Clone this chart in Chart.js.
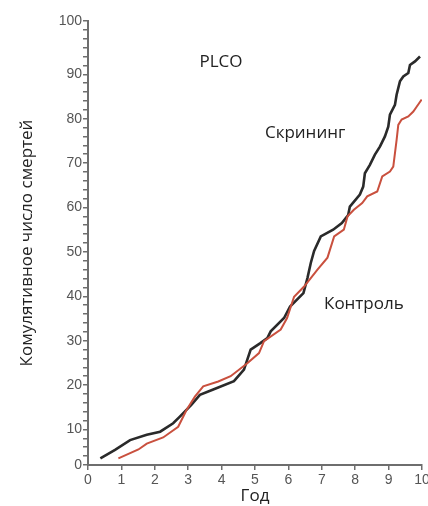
<!DOCTYPE html>
<html>
<head>
<meta charset="utf-8">
<script src="https://cdn.jsdelivr.net/npm/chart.js@4.4.1/dist/chart.umd.min.js"></script>
<style>
  html, body { margin: 0; padding: 0; background: #fff; }
  #wrap { width: 428px; height: 506px; }
</style>
</head>
<body>
<div id="wrap"><canvas id="plco"></canvas></div>
<script>
// Скрининг (чёрная линия)
const screeningYears = [0.37, 0.81, 1.26, 1.76, 2.16, 2.55, 2.75, 3.1, 3.35, 3.75, 4.37, 4.67, 4.87, 5.15, 5.37, 5.47, 5.87, 6.05, 6.45, 6.57, 6.67, 6.77, 6.97, 7.34, 7.6, 7.79, 7.84, 8.14, 8.24, 8.29, 8.44, 8.59, 8.74, 8.89, 8.99, 9.04, 9.19, 9.24, 9.34, 9.44, 9.59, 9.64, 9.79, 9.94];
const screeningDeaths = [3.5, 5.4, 7.6, 8.8, 9.5, 11.4, 12.9, 15.6, 17.8, 19.0, 20.9, 23.5, 28.0, 29.4, 30.6, 32.1, 35.1, 37.7, 40.7, 44.1, 47.5, 50.2, 53.5, 55.0, 56.5, 58.3, 60.2, 62.9, 64.7, 67.7, 69.6, 71.9, 73.7, 76.0, 78.2, 80.9, 83.1, 85.4, 88.4, 89.5, 90.3, 92.1, 92.9, 94.0];

// Контроль (красная линия)
const controlYears = [0.91, 1.51, 1.76, 2.25, 2.7, 2.95, 3.2, 3.45, 3.9, 4.27, 4.77, 5.12, 5.27, 5.77, 5.96, 6.17, 6.47, 6.67, 6.87, 7.17, 7.37, 7.66, 7.77, 7.96, 8.21, 8.36, 8.66, 8.81, 9.04, 9.14, 9.24, 9.29, 9.39, 9.59, 9.74, 9.84, 9.99];
const controlDeaths = [3.5, 5.5, 6.8, 8.2, 10.6, 14.4, 17.4, 19.7, 20.8, 22.0, 24.9, 27.2, 29.9, 32.5, 35.1, 39.9, 42.2, 44.1, 46.0, 48.7, 53.5, 55.0, 58.0, 59.5, 61.0, 62.5, 63.6, 67.0, 68.1, 69.2, 75.2, 78.6, 79.8, 80.5, 81.6, 82.7, 84.3];

// Оси
const xTickValues = [0, 1, 2, 3, 4, 5, 6, 7, 8, 9, 10];
const yTickValues = [2, 10, 20, 30, 40, 50, 60, 70, 80, 90, 102];
const yTickLabels = ['0', '10', '20', '30', '40', '50', '60', '70', '80', '90', '100'];

// Подписи на графике
const noteTexts = ['PLCO', 'Скрининг', 'Контроль'];
const noteYears = [3.98, 6.5, 8.26];
const noteDeaths = [92.8, 76.8, 38.3];

const toPoints = (xs, ys) => xs.map((x, i) => ({ x: x, y: ys[i] }));

const axisColor = '#6e6e6e';
const tickFont = { family: "'Liberation Sans', sans-serif", size: 14 };
const textFont = "'Open Sans', 'Noto Sans', sans-serif";

// Текстовые подписи внутри графика
const notesPlugin = {
  id: 'notes',
  afterDatasetsDraw(chart) {
    const { ctx, scales } = chart;
    ctx.save();
    ctx.font = '17px ' + textFont;
    ctx.fillStyle = '#222';
    ctx.textAlign = 'center';
    ctx.textBaseline = 'middle';
    noteTexts.forEach((t, i) => {
      ctx.fillText(t, scales.x.getPixelForValue(noteYears[i]), scales.y.getPixelForValue(noteDeaths[i]));
    });
    ctx.restore();
  }
};

function drawChart() {
  const ctx = document.getElementById('plco').getContext('2d');
  new Chart(ctx, {
    type: 'line',
    data: {
      datasets: [
        {
          label: 'Контроль',
          data: toPoints(controlYears, controlDeaths),
          borderColor: '#c9503e',
          borderWidth: 2,
          pointRadius: 0,
          tension: 0,
          order: 0,
        },
        {
          label: 'Скрининг',
          data: toPoints(screeningYears, screeningDeaths),
          borderColor: '#2a2a2a',
          borderWidth: 2.6,
          pointRadius: 0,
          tension: 0,
          order: 1,
        },
      ],
    },
    options: {
      responsive: true,
      maintainAspectRatio: false,
      animation: false,
      layout: { padding: { top: 21, right: 6, bottom: 0, left: 0 } },
      plugins: { legend: { display: false }, tooltip: { enabled: false } },
      scales: {
        x: {
          type: 'linear',
          min: 0,
          max: 10,
          afterBuildTicks: (scale) => { scale.ticks = xTickValues.map((v) => ({ value: v })); },
          afterFit: (scale) => { scale.height = 41; scale.paddingLeft = 0; scale.paddingRight = 0; },
          border: { color: axisColor, width: 2 },
          grid: { drawOnChartArea: false, drawTicks: true, tickLength: 5, color: axisColor, lineWidth: 1.5 },
          ticks: { color: '#555', font: tickFont, padding: 2, maxRotation: 0, autoSkip: false },
          title: {
            display: true,
            text: 'Год',
            color: '#222',
            font: { family: textFont, size: 17 },
            padding: { top: 0, bottom: 0 },
          },
        },
        y: {
          type: 'linear',
          min: 2,
          max: 102,
          afterBuildTicks: (scale) => {
            const t = [];
            for (let v = 2; v <= 102; v += 2) t.push({ value: v });
            scale.ticks = t;
          },
          afterFit: (scale) => { scale.width = 88; scale.paddingTop = 0; scale.paddingBottom = 0; },
          border: { color: axisColor, width: 2 },
          grid: { drawOnChartArea: false, drawTicks: true, tickLength: 5, color: axisColor, lineWidth: 1.5 },
          ticks: {
            color: '#555',
            font: tickFont,
            padding: 1,
            autoSkip: false,
            callback: (v) => {
              const i = yTickValues.indexOf(v);
              return i >= 0 ? yTickLabels[i] : '';
            },
          },
          title: {
            display: true,
            text: 'Комулятивное число смертей',
            color: '#222',
            font: { family: textFont, size: 17 },
            padding: { top: 17, bottom: 0 },
          },
        },
      },
    },
    plugins: [notesPlugin],
  });
}

// Шрифты для canvas нужно загрузить заранее
Promise.all([
  document.fonts.load("17px 'Open Sans'", 'Скрининг'),
  document.fonts.load("14px 'Liberation Sans'", '0123456789'),
]).catch(() => {}).then(drawChart);
</script>
</body>
</html>
